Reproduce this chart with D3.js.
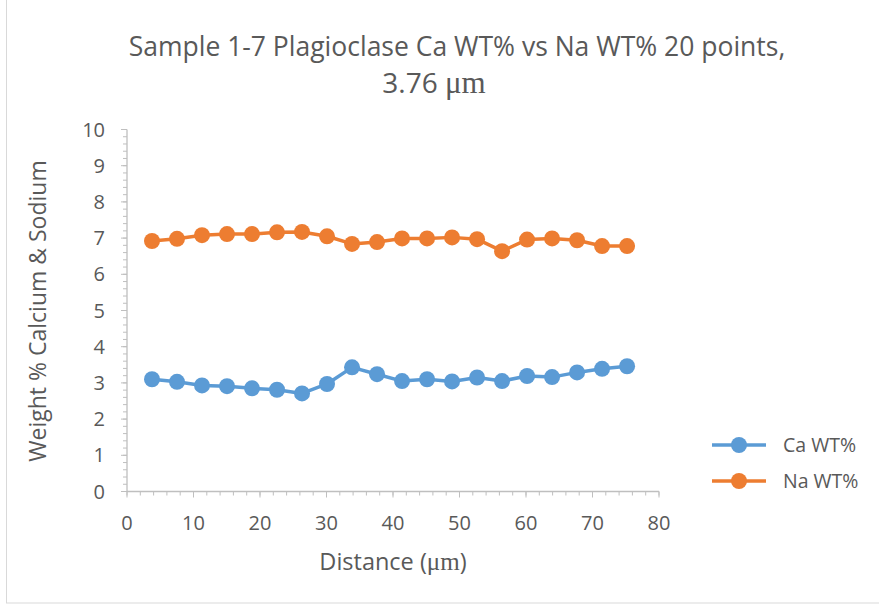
<!DOCTYPE html>
<html><head><meta charset="utf-8">
<script src="https://cdn.jsdelivr.net/npm/d3@7"></script>
<style>body{margin:0;background:#fff}svg text{font-family:"Open Sans","Liberation Sans",sans-serif;fill:#595959}</style>
</head><body><svg id="c" width="879" height="607"></svg>
<script>
const distance = [3.76,7.52,11.28,15.04,18.8,22.56,26.32,30.08,33.84,37.6,41.36,45.12,48.88,52.64,56.4,60.16,63.92,67.68,71.44,75.2];
const caWT = [3.1,3.03,2.93,2.91,2.85,2.81,2.71,2.97,3.43,3.24,3.05,3.1,3.04,3.15,3.05,3.19,3.16,3.29,3.39,3.46];
const naWT = [6.92,6.98,7.08,7.11,7.11,7.16,7.17,7.05,6.84,6.89,6.99,6.99,7.02,6.97,6.64,6.96,6.99,6.94,6.78,6.78];
const seriesNames = ["Ca WT%","Na WT%"];
const colors = ["#5B9BD5","#ED7D31"];
const xTicks = [0,10,20,30,40,50,60,70,80];
const yTicks = [0,1,2,3,4,5,6,7,8,9,10];

const svg = d3.select("#c");
svg.append("rect").attr("x",6.5).attr("y",-1).attr("width",880).attr("height",604)
  .attr("fill","none").attr("stroke","#d9d9d9");

const x = d3.scaleLinear().domain([0,80]).range([127,659]);
const y = d3.scaleLinear().domain([0,10]).range([491.5,129.5]);

const gx = svg.append("g");
gx.selectAll("line.mx").data(d3.range(0,80.01,2)).join("line")
  .attr("x1",d=>x(d)).attr("x2",d=>x(d)).attr("y1",y(0)).attr("y2",y(0)+4)
  .attr("stroke","#bfbfbf");
gx.selectAll("line.Mx").data(xTicks).join("line")
  .attr("x1",d=>x(d)).attr("x2",d=>x(d)).attr("y1",y(0)).attr("y2",y(0)+6)
  .attr("stroke","#bfbfbf");
gx.selectAll("line.my").data(d3.range(0,10.01,0.2)).join("line")
  .attr("y1",d=>y(d)).attr("y2",d=>y(d)).attr("x1",x(0)-4).attr("x2",x(0))
  .attr("stroke","#bfbfbf");
gx.selectAll("line.My").data(yTicks).join("line")
  .attr("y1",d=>y(d)).attr("y2",d=>y(d)).attr("x1",x(0)-6).attr("x2",x(0))
  .attr("stroke","#bfbfbf");
svg.append("line").attr("x1",x(0)).attr("x2",x(80)).attr("y1",y(0)).attr("y2",y(0)).attr("stroke","#bfbfbf").attr("stroke-width",1.3);
svg.append("line").attr("x1",x(0)).attr("x2",x(0)).attr("y1",y(0)).attr("y2",y(10)).attr("stroke","#bfbfbf").attr("stroke-width",1.3);

svg.selectAll("text.xt").data(xTicks).join("text")
  .attr("x",d=>x(d)).attr("y",530).attr("text-anchor","middle").attr("font-size",20).text(d=>d);
svg.selectAll("text.yt").data(yTicks).join("text")
  .attr("x",105).attr("y",d=>y(d)+7).attr("text-anchor","end").attr("font-size",20).text(d=>d);

const data = [caWT,naWT];
const line = d3.line().x((d,i)=>x(distance[i])).y(d=>y(d));
data.forEach((vals,k)=>{
  svg.append("path").datum(vals).attr("d",line).attr("fill","none")
    .attr("stroke",colors[k]).attr("stroke-width",3.5).attr("stroke-linejoin","round");
  svg.append("g").selectAll("circle").data(vals).join("circle")
    .attr("cx",(d,i)=>x(distance[i])).attr("cy",d=>y(d)).attr("r",8).attr("fill",colors[k]);
});

svg.append("text").attr("x",457).attr("y",56).attr("text-anchor","middle").attr("font-size",26.5)
  .text("Sample 1-7 Plagioclase Ca WT% vs Na WT% 20 points,");
const t2 = svg.append("text").attr("x",434).attr("y",93).attr("text-anchor","middle").attr("font-size",28);
t2.append("tspan").text("3.76 ");
t2.append("tspan").style("font-family","'Liberation Serif',serif").style("font-size","31px").text("μm");

const xl = svg.append("text").attr("x",393).attr("y",570).attr("text-anchor","middle").attr("font-size",23.5);
xl.append("tspan").text("Distance (");
xl.append("tspan").style("font-family","'Liberation Serif',serif").style("font-size","25px").text("μm");
xl.append("tspan").text(")");

svg.append("text").attr("transform","translate(46,311) rotate(-90)").attr("text-anchor","middle")
  .attr("font-size",23).text("Weight % Calcium & Sodium");

const lg = svg.append("g");
seriesNames.forEach((n,k)=>{
  const ly = 445 + k*36;
  lg.append("line").attr("x1",712).attr("x2",766).attr("y1",ly).attr("y2",ly).attr("stroke",colors[k]).attr("stroke-width",3.5);
  lg.append("circle").attr("cx",739).attr("cy",ly).attr("r",8).attr("fill",colors[k]);
  lg.append("text").attr("x",783).attr("y",ly+7).attr("font-size",19.5).text(n);
});
</script></body></html>
